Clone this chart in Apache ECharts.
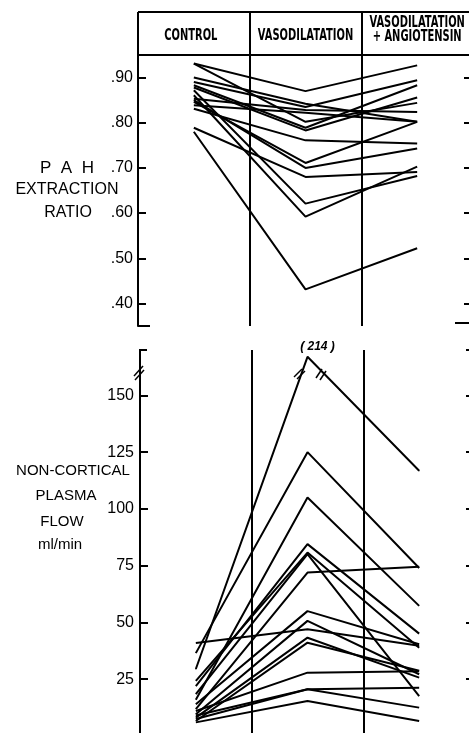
<!DOCTYPE html>
<html>
<head>
<meta charset="utf-8">
<script src="https://cdn.jsdelivr.net/npm/echarts@6/dist/echarts.min.js"></script>
<style>
  html, body { margin: 0; padding: 0; background: #fff; }
  #main { width: 469px; height: 733px; }
</style>
</head>
<body>
<div id="main"></div>
<script>
// groups along the x axis
const groups = ['CONTROL', 'VASODILATATION', 'VASODILATATION\n+ ANGIOTENSIN']

// PAH extraction ratio, one value per kidney
const pahControl = [0.931, 0.931, 0.900, 0.890, 0.883, 0.878, 0.872, 0.861, 0.853, 0.846, 0.839, 0.831, 0.850, 0.789, 0.780]
const pahVaso    = [0.870, 0.802, 0.842, 0.835, 0.789, 0.783, 0.621, 0.592, 0.828, 0.711, 0.822, 0.761, 0.700, 0.680, 0.431]
const pahAngio   = [0.927, 0.844, 0.802, 0.894, 0.883, 0.856, 0.682, 0.703, 0.824, 0.802, 0.802, 0.754, 0.743, 0.691, 0.522]
const pahTicks   = [0.4, 0.5, 0.6, 0.7, 0.8, 0.9]

// non-cortical plasma flow, ml/min
const flowControl = [29.5, 36.5, 16.0, 22.0, 24.3, 18.4, 11.8, 14.0, 41.0, 9.6, 8.1, 6.6, 11.0, 9.0, 7.5, 6.0]
const flowVaso    = [214, 125, 105, 84.5, 80.8, 80.1, 72.0, 55.0, 47.0, 50.7, 43.3, 41.1, 27.9, 20.6, 20.6, 15.4]
const flowAngio   = [116.8, 74.0, 57.3, 45.1, 38.9, 17.6, 74.5, 40.4, 39.7, 27.2, 25.7, 28.7, 28.5, 21.3, 12.5, 6.6]
const flowTicks   = [25, 50, 75, 100, 125, 150]
const flowBreak   = 167   // values above the axis break are drawn here

var myChart = echarts.init(document.getElementById('main'))

const black = '#000'
const labelFont = "'Liberation Sans', Arial, sans-serif"

var series = []
pahControl.forEach((v, i) => {
  series.push({
    type: 'line', xAxisIndex: 0, yAxisIndex: 0,
    symbol: 'none', silent: true,
    lineStyle: { color: black, width: 2 },
    data: [v, pahVaso[i], pahAngio[i]]
  })
})
flowControl.forEach((v, i) => {
  var mid = flowVaso[i]
  var broken = mid > flowBreak
  series.push({
    type: 'line', xAxisIndex: 1, yAxisIndex: 2,
    symbol: broken ? 'circle' : 'none', symbolSize: 1, silent: true,
    itemStyle: { color: black },
    lineStyle: { color: black, width: 2 },
    label: {
      show: false, position: 'top', distance: 4, offset: [10, 0],
      fontSize: 12, fontStyle: 'italic', fontWeight: 'bold', color: black, fontFamily: labelFont
    },
    data: [v, broken ? { value: flowBreak, label: { show: true, formatter: '( ' + mid + ' )' } } : mid, flowAngio[i]]
  })
})

function txt(x, y, s, size) {
  return {
    type: 'text', x: x, y: y,
    style: { text: s, fill: black, font: size + 'px ' + labelFont, textAlign: 'center', textVerticalAlign: 'middle' }
  }
}
function seg(x1, y1, x2, y2, w) {
  return { type: 'line', shape: { x1: x1, y1: y1, x2: x2, y2: y2 }, style: { stroke: black, lineWidth: w || 2 } }
}

// header labels: tall condensed lettering, one per column
var bandW = (473 - 138) / groups.length
var headers = groups.map((g, i) => ({
  type: 'text', x: 138 + bandW * (i + 0.5) - (i === 0 ? 3 : 0), y: g.indexOf('\n') > 0 ? 30 : 36,
  scaleX: 0.62,
  style: {
    text: g, fill: black, font: "bold 16px 'DejaVu Sans', sans-serif",
    lineHeight: 14, textAlign: 'center', textVerticalAlign: 'middle'
  }
}))

const option = {
  animation: false,
  backgroundColor: '#fff',
  grid: [
    { left: 138, right: -4, top: 55, height: 271, outerBoundsMode: 'none' },
    { left: 140, right: -6, top: 350, bottom: -3, outerBoundsMode: 'none' }
  ],
  xAxis: [
    {
      type: 'category', gridIndex: 0, position: 'top', data: groups,
      axisLine: { lineStyle: { color: black, width: 2 } },
      axisTick: { show: true, interval: 0, length: 43, lineStyle: { color: black, width: 2 } },
      axisLabel: { show: false },
      splitLine: { show: true, interval: 0, lineStyle: { color: black, width: 2 } }
    },
    {
      type: 'category', gridIndex: 1, data: groups,
      axisLine: { show: false }, axisTick: { show: false }, axisLabel: { show: false },
      splitLine: { show: true, interval: 0, lineStyle: { color: black, width: 2 } }
    }
  ],
  yAxis: [
    {
      type: 'value', gridIndex: 0, min: 0.35, max: 0.95,
      axisLine: { show: true, lineStyle: { color: black, width: 2 } },
      axisTick: { show: true, inside: true, length: 8, customValues: pahTicks, lineStyle: { color: black, width: 2 } },
      axisLabel: {
        customValues: pahTicks, margin: 5, color: black, fontSize: 16, fontFamily: labelFont,
        formatter: v => v.toFixed(2).replace(/^0/, '')
      },
      splitLine: { show: false }
    },
    {
      type: 'value', gridIndex: 0, min: 0.35, max: 0.95, position: 'right',
      axisLine: { show: false },
      axisTick: { show: true, inside: true, length: 9, customValues: pahTicks, lineStyle: { color: black, width: 2 } },
      axisLabel: { show: false }, splitLine: { show: false }
    },
    {
      type: 'value', gridIndex: 1, min: 0, max: 170,
      axisLine: { show: true, lineStyle: { color: black, width: 2 } },
      axisTick: { show: true, inside: true, length: 8, customValues: flowTicks, lineStyle: { color: black, width: 2 } },
      axisLabel: { customValues: flowTicks, margin: 6, color: black, fontSize: 16, fontFamily: labelFont },
      splitLine: { show: false }
    },
    {
      type: 'value', gridIndex: 1, min: 0, max: 170, position: 'right',
      axisLine: { show: false },
      axisTick: { show: true, inside: true, length: 9, customValues: flowTicks.concat([170]), lineStyle: { color: black, width: 2 } },
      axisLabel: { show: false }, splitLine: { show: false }
    }
  ],
  graphic: headers.concat([
    // header box top edge
    seg(138, 12, 469, 12),
    // axis titles
    txt(67, 168, 'P  A  H', 17),
    txt(67, 190, 'EXTRACTION', 16),
    txt(68, 213, 'RATIO', 16),
    txt(73, 471, 'NON-CORTICAL', 15),
    txt(66, 496, 'PLASMA', 15),
    txt(62, 522, 'FLOW', 15),
    txt(60, 545, 'ml/min', 15),
    // end caps of the axes
    seg(138, 326, 150, 326),
    seg(455, 323, 469, 323),
    seg(139, 350, 147, 350),
    // break marks on the flow axis
    seg(134, 376, 143, 366, 1.5),
    seg(135, 380, 144, 370, 1.5),
    // break marks on the (214) line
    seg(294, 377, 302, 369, 1.5),
    seg(297, 379, 305, 371, 1.5),
    seg(316, 378, 322, 369, 1.5),
    seg(320, 380, 326, 371, 1.5)
  ]),
  series: series
}
myChart.setOption(option)
</script>
</body>
</html>
